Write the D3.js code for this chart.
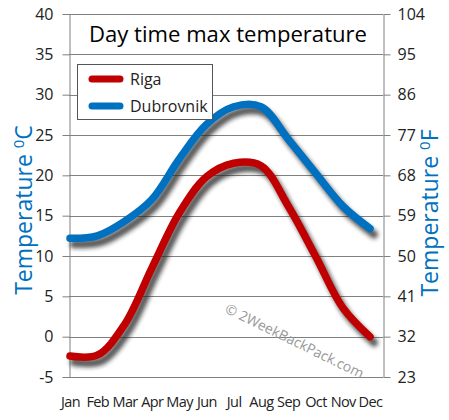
<!DOCTYPE html>
<html><head><meta charset="utf-8">
<script src="https://cdn.jsdelivr.net/npm/d3@7"></script>
<style>
html,body{margin:0;padding:0;background:#fff;}
svg{display:block;font-family:"Open Sans",sans-serif;}
</style></head>
<body>
<svg id="c" width="449" height="420"></svg>
<script>
const months = ["Jan","Feb","Mar","Apr","May","Jun","Jul","Aug","Sep","Oct","Nov","Dec"];
const riga = [-2.4, -2.3, 1.5, 8.5, 15.3, 19.8, 21.5, 21.2, 16.2, 10.0, 3.6, 0.0];
const dubrovnik = [12.2, 12.5, 14.3, 17.0, 22.0, 26.3, 28.5, 28.5, 24.5, 20.3, 16.2, 13.4];
const celsiusTicks = [-5, 0, 5, 10, 15, 20, 25, 30, 35, 40];
const fahrenheitTicks = [23, 32, 41, 50, 59, 68, 77, 86, 95, 104];
const seriesNames = ["Riga", "Dubrovnik"];
const seriesColors = ["#c00000", "#0070c0"];

const svg = d3.select("#c");
const L = 69, R = 383, T = 14, B = 377;
const x = d3.scalePoint().domain(months).range([70, 370]);
const y = d3.scaleLinear().domain([-5, 40]).range([B, T]);
const yF = d3.scaleLinear().domain([23, 104]).range([B, T]);

const defs = svg.append("defs");
defs.append("filter").attr("id","blur").attr("x","-20%").attr("y","-20%").attr("width","140%").attr("height","140%")
  .append("feGaussianBlur").attr("stdDeviation", 2.2);

// grid
svg.append("g").selectAll("line").data(celsiusTicks).join("line")
  .attr("x1", L).attr("x2", R).attr("y1", d => Math.round(y(d))+0.5).attr("y2", d => Math.round(y(d))+0.5)
  .attr("stroke", "#808080").attr("stroke-width", 1);

// axes
const ax = svg.append("g").attr("transform", `translate(${L+0.5},0)`)
  .call(d3.axisLeft(y).tickValues(celsiusTicks).tickFormat(d => String(d)).tickSize(7).tickPadding(9).tickSizeOuter(0));
const axR = svg.append("g").attr("transform", `translate(${R+0.5},0)`)
  .call(d3.axisRight(yF).tickValues(fahrenheitTicks).tickFormat(d => String(d)).tickSize(7).tickPadding(7).tickSizeOuter(0));
[ax, axR].forEach(g => {
  g.select(".domain").attr("stroke", "#808080");
  g.selectAll(".tick line").attr("stroke", "#808080");
  g.selectAll(".tick text").attr("fill", "#222").attr("font-size", 16).attr("font-family", "Open Sans");
});

// month labels
const axX = svg.append("g").attr("transform", `translate(0,${B})`)
  .call(d3.axisBottom(x).tickSize(0).tickPadding(20));
axX.select(".domain").remove();
axX.selectAll(".tick text").attr("fill", "#222").attr("font-size", 14.5).attr("font-family", "Open Sans")
  .attr("letter-spacing", -0.6);

// title
svg.append("text").attr("x", 228).attr("y", 42).attr("text-anchor", "middle")
  .attr("font-size", 22).attr("fill", "#000").attr("font-family", "Open Sans")
  .attr("textLength", 278).attr("lengthAdjust", "spacingAndGlyphs")
  .text("Day time max temperature");

// watermark
svg.append("text").attr("transform", "translate(224,312) rotate(26)")
  .attr("font-size", 14).attr("fill", "#999").attr("font-family", "Open Sans")
  .text("© 2WeekBackPack.com");

// lines
const line = d3.line().x((d, i) => x(months[i])).y(d => y(d)).curve(d3.curveCatmullRom.alpha(0.5));
const data = [riga, dubrovnik];
data.forEach((vals, k) => {
  svg.append("path").attr("d", line(vals)).attr("fill", "none")
    .attr("stroke", "#222").attr("stroke-opacity", 0.75).attr("stroke-width", 8)
    .attr("stroke-linecap", "round").attr("stroke-linejoin", "round")
    .attr("transform", "translate(4,6)").attr("filter", "url(#blur)");
});
data.forEach((vals, k) => {
  svg.append("path").attr("d", line(vals)).attr("fill", "none")
    .attr("stroke", seriesColors[k]).attr("stroke-width", 7.5)
    .attr("stroke-linecap", "round").attr("stroke-linejoin", "round");
});

// legend
const lg = svg.append("g");
lg.append("rect").attr("x", 77.5).attr("y", 64.5).attr("width", 135).attr("height", 55)
  .attr("fill", "#fff").attr("stroke", "#555").attr("stroke-width", 1);
seriesNames.forEach((n, i) => {
  const yy = 79 + i * 27;
  lg.append("line").attr("x1", 92).attr("x2", 120).attr("y1", yy).attr("y2", yy)
    .attr("stroke", seriesColors[i]).attr("stroke-width", 7).attr("stroke-linecap", "round");
  lg.append("text").attr("x", 130).attr("y", yy + 6).attr("font-size", 16).attr("fill", "#222")
    .attr("font-family", "Open Sans").text(n);
});

// axis titles
const lt = svg.append("text").attr("transform", "translate(32,210) rotate(-90)")
  .attr("text-anchor", "middle").attr("fill", "#0070c0").attr("font-family", "Open Sans");
lt.append("tspan").attr("font-size", 23).text("Temperature ");
lt.append("tspan").attr("font-size", 15).attr("dy", -8).text("0");
lt.append("tspan").attr("font-size", 23).attr("dy", 8).text("C");

const rt = svg.append("text").attr("transform", "translate(438,213) rotate(-90)")
  .attr("text-anchor", "middle").attr("fill", "#0070c0").attr("font-family", "Open Sans");
rt.append("tspan").attr("font-size", 23).text("Temperature ");
rt.append("tspan").attr("font-size", 15).attr("dy", -8).text("0");
rt.append("tspan").attr("font-size", 23).attr("dy", 8).text("F");
</script>
</body></html>
